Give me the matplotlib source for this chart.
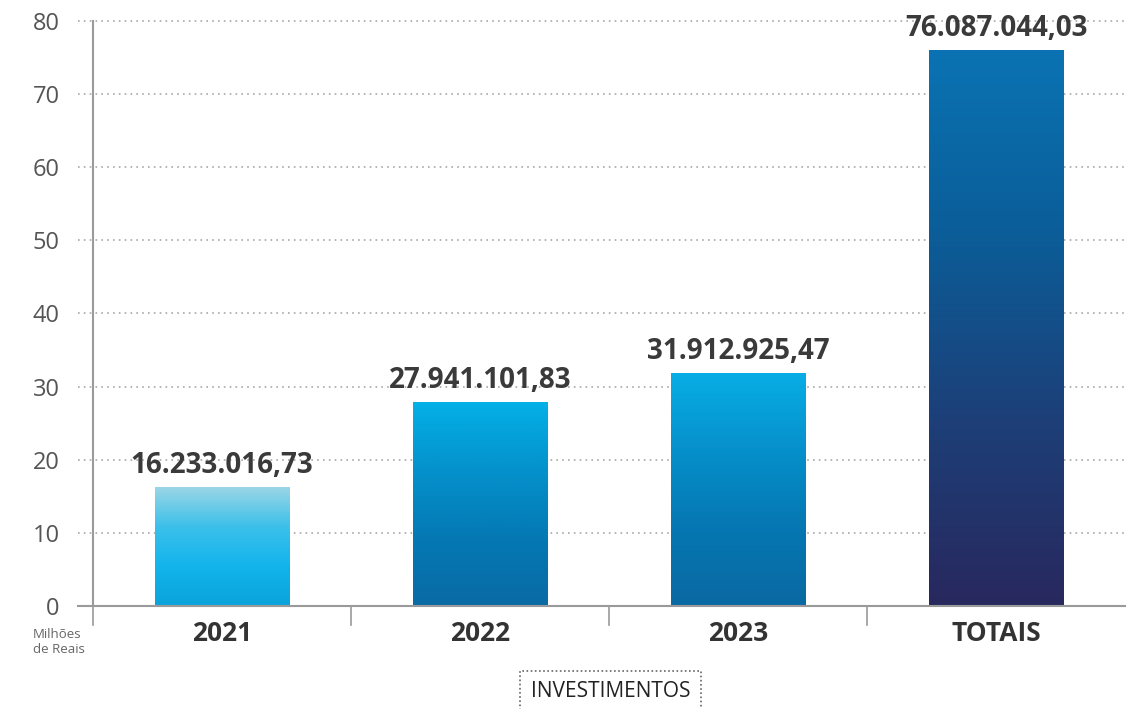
import numpy as np
import matplotlib.pyplot as plt
from matplotlib.colors import LinearSegmentedColormap
from matplotlib.patches import Rectangle

# Investimentos por ano (R$)
categorias = ['2021', '2022', '2023', 'TOTAIS']
valores = [16233016.73, 27941101.83, 31912925.47, 76087044.03]
rotulos = ['16.233.016,73', '27.941.101,83', '31.912.925,47', '76.087.044,03']
yticks = [0, 10, 20, 30, 40, 50, 60, 70, 80]

# gradientes (topo -> base) de cada barra
gradientes = [
    ['#9ad6e6', '#3cc0ea', '#12b4ec', '#0aa3da'],
    ['#04b0e8', '#0492cc', '#0479b4', '#0a6aa4'],
    ['#08aee6', '#0690cb', '#0577b2', '#0a69a2'],
    ['#0a73b3', '#0b5d98', '#1d3f78', '#28285e'],
]

plt.rcParams['font.family'] = ['Open Sans', 'DejaVu Sans']

fig = plt.figure(figsize=(11.41, 7.09), dpi=100)
ax = fig.add_axes([0.0815, 0.1453, 0.9045, 0.8251])

milhoes = [v / 1e6 for v in valores]
x = np.arange(len(categorias))
largura = 0.52

# grade pontilhada
for t in yticks[1:]:
    ax.plot([-0.56, 3.5], [t, t], ls=(0, (1, 2.5)), color='#a8a8a8', lw=1.2,
            clip_on=False, zorder=1)

# eixos
ax.plot([-0.56, 3.5], [0, 0], color='#9a9a9a', lw=1.5, clip_on=False, zorder=4)
ax.plot([-0.5, -0.5], [0, 80], color='#9a9a9a', lw=1.5, clip_on=False, zorder=4)
for s in [-0.5, 0.5, 1.5, 2.5]:
    ax.plot([s, s], [0, -2.6], color='#9a9a9a', lw=1.2, clip_on=False, zorder=4)

# barras com gradiente vertical
for i, (xi, v) in enumerate(zip(x, milhoes)):
    cmap = LinearSegmentedColormap.from_list(f'g{i}', gradientes[i][::-1])
    grad = np.linspace(0, 1, 256).reshape(-1, 1)
    left = xi - largura / 2
    im = ax.imshow(grad, cmap=cmap, aspect='auto', origin='lower',
                   extent=[left, left + largura, 0, v], zorder=2)
    rect = Rectangle((left, 0), largura, v, transform=ax.transData,
                     facecolor='none', edgecolor='none')
    ax.add_patch(rect)
    im.set_clip_path(rect)
    ax.annotate(rotulos[i], (xi, v), xytext=(0, 5), textcoords='offset points',
                ha='center', va='bottom', fontsize=20, fontweight='bold',
                color='#3a3a3a', zorder=5)

ax.set_xlim(-0.5, len(categorias) - 0.5)
ax.set_ylim(0, 80)

for sp in ax.spines.values():
    sp.set_visible(False)
ax.set_yticks(yticks)
ax.set_yticklabels([str(t) for t in yticks], fontsize=17, color='#555555')
ax.tick_params(axis='y', length=0, pad=24)
ax.set_xticks(x)
ax.set_xticklabels(categorias, fontsize=19, fontweight='bold', color='#333333')
ax.tick_params(axis='x', length=0, pad=10)

fig.text(0.029, 0.094, 'Milhões\nde Reais', fontsize=9.5, color='#666666',
         ha='left', va='center', linespacing=1.2)

fig.text(0.535, 0.024, 'INVESTIMENTOS', fontsize=15, color='#222222',
         ha='center', va='center',
         bbox=dict(boxstyle='square,pad=0.5', facecolor='white',
                   edgecolor='#666666', linestyle=(0, (1, 1.5)), linewidth=1.2))

fig.savefig('out.png', dpi=100)
